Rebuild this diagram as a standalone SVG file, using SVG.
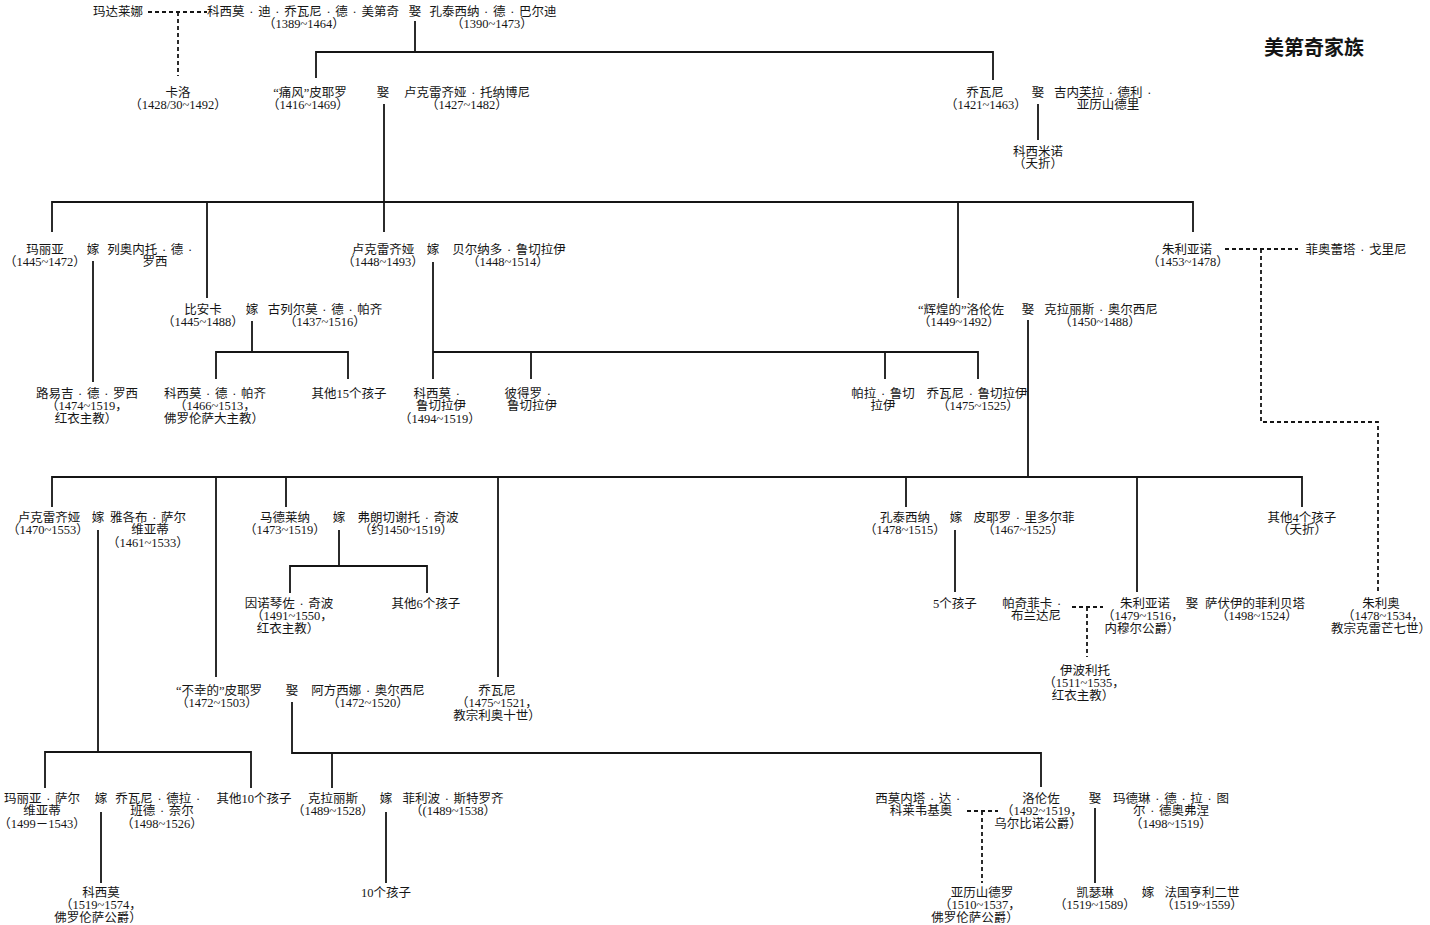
<svg xmlns="http://www.w3.org/2000/svg" width="1430" height="925" viewBox="0 0 1430 925">
<style>
.t{font-family:"Liberation Serif","Noto Sans CJK SC",serif;font-size:12.5px;text-anchor:middle;fill:#151515}
.dt{letter-spacing:4.7px}
.ti{font-family:"Noto Sans CJK SC","Liberation Sans",sans-serif;font-size:20px;font-weight:bold;text-anchor:middle;fill:#151515}
.l{stroke:#151515;stroke-width:1.8;fill:none}
.d{stroke:#151515;stroke-width:1.8;fill:none;stroke-dasharray:4 3}
</style>
<rect width="1430" height="925" fill="#fff"/>
<g id="connectors">
<path class="l" d="M415 21V52M316 78V52H993V80"/>
<path class="l" d="M384 104V232M52 232V202H1193V232M207 202V298M958 202V298"/>
<path class="l" d="M1038 104V140"/>
<path class="l" d="M93 261V382"/>
<path class="l" d="M433 262V379M433 352H978V379M531 352V379M885 352V379"/>
<path class="l" d="M252 321V352M216 379V352H348V379"/>
<path class="l" d="M1028 320V477M52 507V477H1302V507M216 477V677M286 477V507M498 477V677M906 477V507M1137 477V592"/>
<path class="l" d="M98 530V752M45 788V752H251V788"/>
<path class="l" d="M339 530V566M290 593V566H427V593"/>
<path class="l" d="M955 530V592"/>
<path class="l" d="M292 702V753H1041V787M332 753V788"/>
<path class="l" d="M101 812V883M386 812V883M1095 808V883"/>
<path class="d" d="M148 12H207M178 12V76"/>
<path class="d" d="M1225 249H1298M1261 249V422H1378V592"/>
<path class="d" d="M1072 607H1103M1087 607V657"/>
<path class="d" d="M967 811H998M982 811V883"/>
</g>
<g id="title"><text class="ti" x="1314" y="55">美第奇家族</text></g>
<g id="maddalena"><text class="t" x="118" y="15.5">玛达莱娜</text></g>
<g id="cosimo-elder"><text class="t" x="303" y="15.5">科西莫<tspan class="dt" dx="4.7">·</tspan>迪<tspan class="dt" dx="4.7">·</tspan>乔瓦尼<tspan class="dt" dx="4.7">·</tspan>德<tspan class="dt" dx="4.7">·</tspan>美第奇</text><text class="t" x="304" y="28">（1389~1464）</text></g>
<g id="m-cosimo"><text class="t" x="415" y="15.5">娶</text></g>
<g id="contessina-bardi"><text class="t" x="493" y="15.5">孔泰西纳<tspan class="dt" dx="4.7">·</tspan>德<tspan class="dt" dx="4.7">·</tspan>巴尔迪</text><text class="t" x="492" y="28">（1390~1473）</text></g>
<g id="carlo"><text class="t" x="178" y="96.5">卡洛</text><text class="t" x="178" y="109">（1428/30~1492）</text></g>
<g id="piero-gouty"><text class="t" x="310" y="96.5">“痛风”皮耶罗</text><text class="t" x="308" y="109">（1416~1469）</text></g>
<g id="m-piero"><text class="t" x="383" y="96.5">娶</text></g>
<g id="lucrezia-tornabuoni"><text class="t" x="467" y="96.5">卢克雷齐娅<tspan class="dt" dx="4.7">·</tspan>托纳博尼</text><text class="t" x="467" y="109">（1427~1482）</text></g>
<g id="giovanni-1421"><text class="t" x="985" y="96.5">乔瓦尼</text><text class="t" x="986" y="109">（1421~1463）</text></g>
<g id="m-giovanni"><text class="t" x="1038" y="96.5">娶</text></g>
<g id="ginevra"><text class="t" x="1105" y="96.5">吉内芙拉<tspan class="dt" dx="4.7">·</tspan>德利<tspan class="dt" dx="4.7">·</tspan></text><text class="t" x="1108" y="109">亚历山德里</text></g>
<g id="cosimino"><text class="t" x="1038" y="155.5">科西米诺</text><text class="t" x="1038" y="168">（夭折）</text></g>
<g id="maria-1445"><text class="t" x="45" y="253.5">玛丽亚</text><text class="t" x="45" y="266">（1445~1472）</text></g>
<g id="m-maria"><text class="t" x="93" y="253.5">嫁</text></g>
<g id="leonetto"><text class="t" x="152" y="253.5">列奥内托<tspan class="dt" dx="4.7">·</tspan>德<tspan class="dt" dx="4.7">·</tspan></text><text class="t" x="155" y="266">罗西</text></g>
<g id="lucrezia-1448"><text class="t" x="383" y="253.5">卢克雷齐娅</text><text class="t" x="383" y="266">（1448~1493）</text></g>
<g id="m-lucrezia"><text class="t" x="433" y="253.5">嫁</text></g>
<g id="bernardo"><text class="t" x="509" y="253.5">贝尔纳多<tspan class="dt" dx="4.7">·</tspan>鲁切拉伊</text><text class="t" x="508" y="266">（1448~1514）</text></g>
<g id="giuliano-1453"><text class="t" x="1187" y="253.5">朱利亚诺</text><text class="t" x="1188" y="266">（1453~1478）</text></g>
<g id="fioretta"><text class="t" x="1356" y="253.5">菲奥蕾塔<tspan class="dt" dx="4.7">·</tspan>戈里尼</text></g>
<g id="bianca"><text class="t" x="203" y="313.5">比安卡</text><text class="t" x="203" y="326">（1445~1488）</text></g>
<g id="m-bianca"><text class="t" x="252" y="313.5">嫁</text></g>
<g id="guglielmo"><text class="t" x="325" y="313.5">古列尔莫<tspan class="dt" dx="4.7">·</tspan>德<tspan class="dt" dx="4.7">·</tspan>帕齐</text><text class="t" x="325" y="326">（1437~1516）</text></g>
<g id="lorenzo-magnifico"><text class="t" x="961" y="313.5">“辉煌的”洛伦佐</text><text class="t" x="959" y="326">（1449~1492）</text></g>
<g id="m-lorenzo"><text class="t" x="1028" y="313.5">娶</text></g>
<g id="clarice-orsini"><text class="t" x="1101" y="313.5">克拉丽斯<tspan class="dt" dx="4.7">·</tspan>奥尔西尼</text><text class="t" x="1100" y="326">（1450~1488）</text></g>
<g id="luigi"><text class="t" x="87" y="397.5">路易吉<tspan class="dt" dx="4.7">·</tspan>德<tspan class="dt" dx="4.7">·</tspan>罗西</text><text class="t" x="87" y="410">（1474~1519，</text><text class="t" x="86" y="422.5">红衣主教）</text></g>
<g id="cosimo-pazzi"><text class="t" x="215" y="397.5">科西莫<tspan class="dt" dx="4.7">·</tspan>德<tspan class="dt" dx="4.7">·</tspan>帕齐</text><text class="t" x="215" y="410">（1466~1513，</text><text class="t" x="214" y="422.5">佛罗伦萨大主教）</text></g>
<g id="other15"><text class="t" x="349" y="397.5">其他15个孩子</text></g>
<g id="cosimo-rucellai"><text class="t" x="439" y="397.5">科西莫<tspan class="dt" dx="4.7">·</tspan></text><text class="t" x="441" y="410">鲁切拉伊</text><text class="t" x="440" y="422.5">（1494~1519）</text></g>
<g id="pietro-rucellai"><text class="t" x="530" y="397.5">彼得罗<tspan class="dt" dx="4.7">·</tspan></text><text class="t" x="532" y="410">鲁切拉伊</text></g>
<g id="palla-rucellai"><text class="t" x="883" y="397.5">帕拉<tspan class="dt" dx="4.7">·</tspan>鲁切</text><text class="t" x="883" y="410">拉伊</text></g>
<g id="giovanni-rucellai"><text class="t" x="977" y="397.5">乔瓦尼<tspan class="dt" dx="4.7">·</tspan>鲁切拉伊</text><text class="t" x="978" y="410">（1475~1525）</text></g>
<g id="lucrezia-1470"><text class="t" x="49" y="521.5">卢克雷齐娅</text><text class="t" x="48" y="534">（1470~1553）</text></g>
<g id="m-lucrezia2"><text class="t" x="98" y="521.5">嫁</text></g>
<g id="jacopo"><text class="t" x="148" y="521.5">雅各布<tspan class="dt" dx="4.7">·</tspan>萨尔</text><text class="t" x="150" y="534">维亚蒂</text><text class="t" x="148" y="546.5">（1461~1533）</text></g>
<g id="maddalena-1473"><text class="t" x="285" y="521.5">马德莱纳</text><text class="t" x="285" y="534">（1473~1519）</text></g>
<g id="m-maddalena"><text class="t" x="339" y="521.5">嫁</text></g>
<g id="franceschetto"><text class="t" x="408" y="521.5">弗朗切谢托<tspan class="dt" dx="4.7">·</tspan>奇波</text><text class="t" x="406" y="534">（约1450~1519）</text></g>
<g id="contessina-1478"><text class="t" x="905" y="521.5">孔泰西纳</text><text class="t" x="905" y="534">（1478~1515）</text></g>
<g id="m-contessina"><text class="t" x="956" y="521.5">嫁</text></g>
<g id="piero-ridolfi"><text class="t" x="1024" y="521.5">皮耶罗<tspan class="dt" dx="4.7">·</tspan>里多尔菲</text><text class="t" x="1023" y="534">（1467~1525）</text></g>
<g id="other4"><text class="t" x="1302" y="521.5">其他4个孩子</text><text class="t" x="1302" y="534">（夭折）</text></g>
<g id="innocenzo"><text class="t" x="289" y="607.5">因诺琴佐<tspan class="dt" dx="4.7">·</tspan>奇波</text><text class="t" x="292" y="620">（1491~1550，</text><text class="t" x="288" y="632.5">红衣主教）</text></g>
<g id="other6"><text class="t" x="426" y="607.5">其他6个孩子</text></g>
<g id="five-children"><text class="t" x="955" y="607.5">5个孩子</text></g>
<g id="pacifica"><text class="t" x="1034" y="607.5">帕奇菲卡<tspan class="dt" dx="4.7">·</tspan></text><text class="t" x="1036" y="620">布兰达尼</text></g>
<g id="giuliano-1479"><text class="t" x="1145" y="607.5">朱利亚诺</text><text class="t" x="1143" y="620">（1479~1516，</text><text class="t" x="1142" y="632.5">内穆尔公爵）</text></g>
<g id="m-giuliano"><text class="t" x="1192" y="607.5">娶</text></g>
<g id="filiberta"><text class="t" x="1255" y="607.5">萨伏伊的菲利贝塔</text><text class="t" x="1257" y="620">（1498~1524）</text></g>
<g id="giulio"><text class="t" x="1381" y="607.5">朱利奥</text><text class="t" x="1383" y="620">（1478~1534，</text><text class="t" x="1381" y="632.5">教宗克雷芒七世）</text></g>
<g id="ippolito"><text class="t" x="1085" y="674.5">伊波利托</text><text class="t" x="1084" y="687">（1511~1535，</text><text class="t" x="1083" y="699.5">红衣主教）</text></g>
<g id="piero-unfortunate"><text class="t" x="219" y="694.5">“不幸的”皮耶罗</text><text class="t" x="217" y="707">（1472~1503）</text></g>
<g id="m-piero2"><text class="t" x="292" y="694.5">娶</text></g>
<g id="alfonsina"><text class="t" x="368" y="694.5">阿方西娜<tspan class="dt" dx="4.7">·</tspan>奥尔西尼</text><text class="t" x="368" y="707">（1472~1520）</text></g>
<g id="giovanni-leo"><text class="t" x="497" y="694.5">乔瓦尼</text><text class="t" x="497" y="707">（1475~1521，</text><text class="t" x="497" y="719.5">教宗利奥十世）</text></g>
<g id="maria-salviati"><text class="t" x="42" y="802.5">玛丽亚<tspan class="dt" dx="4.7">·</tspan>萨尔</text><text class="t" x="42" y="815">维亚蒂</text><text class="t" x="42" y="827.5">（1499－1543）</text></g>
<g id="m-maria2"><text class="t" x="101" y="802.5">嫁</text></g>
<g id="giovanni-bande"><text class="t" x="160" y="802.5">乔瓦尼<tspan class="dt" dx="4.7">·</tspan>德拉<tspan class="dt" dx="4.7">·</tspan></text><text class="t" x="162" y="815">班德<tspan class="dt" dx="4.7">·</tspan>奈尔</text><text class="t" x="162" y="827.5">（1498~1526）</text></g>
<g id="other10"><text class="t" x="254" y="802.5">其他10个孩子</text></g>
<g id="clarice-1489"><text class="t" x="333" y="802.5">克拉丽斯</text><text class="t" x="333" y="815">（1489~1528）</text></g>
<g id="m-clarice"><text class="t" x="386" y="802.5">嫁</text></g>
<g id="filippo"><text class="t" x="453" y="802.5">菲利波<tspan class="dt" dx="4.7">·</tspan>斯特罗齐</text><text class="t" x="453" y="815">（(1489~1538）</text></g>
<g id="simonetta"><text class="t" x="920" y="802.5">西莫内塔<tspan class="dt" dx="4.7">·</tspan>达<tspan class="dt" dx="4.7">·</tspan></text><text class="t" x="921" y="815">科莱韦基奥</text></g>
<g id="lorenzo-urbino"><text class="t" x="1041" y="802.5">洛伦佐</text><text class="t" x="1042" y="815">（1492~1519，</text><text class="t" x="1038" y="827.5">乌尔比诺公爵）</text></g>
<g id="m-lorenzo2"><text class="t" x="1095" y="802.5">娶</text></g>
<g id="madeleine"><text class="t" x="1171" y="802.5">玛德琳<tspan class="dt" dx="4.7">·</tspan>德<tspan class="dt" dx="4.7">·</tspan>拉<tspan class="dt" dx="4.7">·</tspan>图</text><text class="t" x="1171" y="815">尔<tspan class="dt" dx="4.7">·</tspan>德奥弗涅</text><text class="t" x="1171" y="827.5">（1498~1519）</text></g>
<g id="cosimo-duke"><text class="t" x="101" y="896.5">科西莫</text><text class="t" x="101" y="909">（1519~1574，</text><text class="t" x="98" y="921.5">佛罗伦萨公爵）</text></g>
<g id="ten-children"><text class="t" x="386" y="896.5">10个孩子</text></g>
<g id="alessandro"><text class="t" x="982" y="896.5">亚历山德罗</text><text class="t" x="980" y="909">（1510~1537，</text><text class="t" x="975" y="921.5">佛罗伦萨公爵）</text></g>
<g id="catherine"><text class="t" x="1095" y="896.5">凯瑟琳</text><text class="t" x="1095" y="909">（1519~1589）</text></g>
<g id="m-catherine"><text class="t" x="1148" y="896.5">嫁</text></g>
<g id="henri"><text class="t" x="1202" y="896.5">法国亨利二世</text><text class="t" x="1202" y="909">（1519~1559）</text></g>
</svg>
